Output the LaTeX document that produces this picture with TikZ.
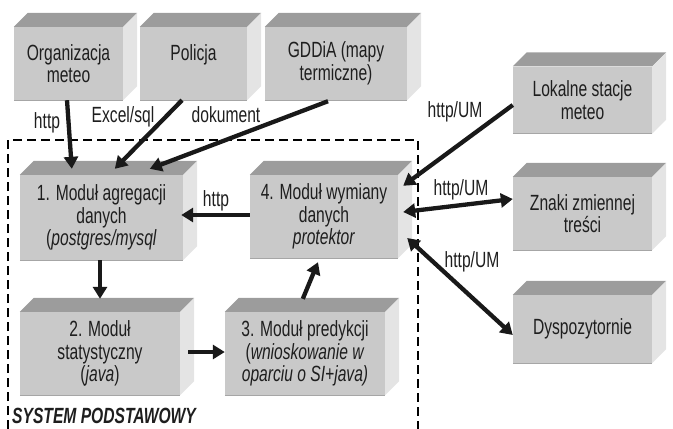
\documentclass[tikz,border=0pt]{standalone}
\usepackage{fontspec}
\setmainfont[FakeStretch=0.71]{Liberation Sans}
\usetikzlibrary{arrows.meta}

\definecolor{frontgray}{HTML}{C9C9C9}
\definecolor{topgray}{HTML}{9C9C9C}
\definecolor{sidegray}{HTML}{E4E4E4}
\definecolor{textgray}{HTML}{1E1E1E}

\begin{document}
\begin{tikzpicture}[
    x=1pt, y=-1pt,
% first : the style of the blocks
    block/.style={
        rectangle,
        fill=frontgray,
        align=center,
        inner sep=0pt,
        text=textgray,
        font=\fontsize{22}{22.5}\selectfont
    },
    linktext/.style={
        inner sep=0pt,
        text=textgray,
        font=\fontsize{22}{22.5}\selectfont
    },
    link/.style={line width=4.3pt, black!90},
    >={Triangle[length=12pt,width=14pt]}
]
\useasboundingbox (0,0) rectangle (673,429);

% the basic system frame
\draw[line width=2.8pt, dash pattern=on 9pt off 5pt] (8,429) -- (8,140) -- (418,140) -- (418,429);
\node[anchor=base west, inner sep=0pt, text=textgray,
    font=\fontsize{22}{22.5}\selectfont\bfseries\itshape] (system) at (12,423) {SYSTEM PODSTAWOWY};

% sources
\node[block, minimum width=109pt, minimum height=73pt] (org) at (68.5,63.5) {Organizacja\\meteo};
\node[block, minimum width=107pt, minimum height=73pt] (pol) at (193.5,63.5) {Policja\\~};
\node[block, minimum width=142pt, minimum height=73pt] (gddia) at (336,63.5) {GDDiA (mapy\\termiczne)};

% outside partners
\node[block, minimum width=139pt, minimum height=67pt] (lok) at (582.5,100) {Lokalne stacje\\meteo};
\node[block, minimum width=139pt, minimum height=73pt] (znaki) at (582.5,213.5) {Znaki zmiennej\\treści};
\node[block, minimum width=139pt, minimum height=68pt] (dispo) at (582.5,329) {Dyspozytornie};

% modules
\node[block, minimum width=163pt, minimum height=85pt] (mod1) at (101.5,217.5) {1. Moduł agregacji\\danych\\(\textit{postgres/mysql}};
\node[block, minimum width=148pt, minimum height=83pt] (mod4) at (324,216.5) {4. Moduł wymiany\\danych\\\textit{protektor}};
\node[block, minimum width=160pt, minimum height=83pt] (mod2) at (100,353.5) {2. Moduł\\statystyczny\\(\textit{java})};
\node[block, minimum width=160pt, minimum height=83pt] (mod3) at (305,353.5) {3. Moduł predykcji\\(\textit{wnioskowanie w}\\\textit{oparciu o SI+java)}};

% 3d faces
\foreach \n in {org,pol,gddia,lok,znaki,dispo,mod1,mod2,mod3,mod4} {
    \fill[topgray] (\n.north west) -- ([xshift=14pt,yshift=14pt]\n.north west)
        -- ([xshift=14pt,yshift=14pt]\n.north east) -- (\n.north east) -- cycle;
    \fill[sidegray] (\n.north east) -- ([xshift=14pt,yshift=14pt]\n.north east)
        -- ([xshift=14pt,yshift=14pt]\n.south east) -- (\n.south east) -- cycle;
    \draw[black!35, line width=1.2pt] (\n.south west) -- (\n.south east);
}

% links
\draw[link,->] ([xshift=-1.5pt]org.south) -- ([xshift=52pt,yshift=6pt]mod1.north west);
\draw[link,->] ([xshift=-11.5pt]pol.south) -- ([xshift=95pt,yshift=6pt]mod1.north west);
\draw[link,->] ([xshift=-8pt,yshift=-1pt]gddia.south) -- ([xshift=130pt,yshift=6pt]mod1.north west);
\draw[link,->] ([yshift=-5pt]lok.west) -- ([xshift=5pt,yshift=-11pt]mod4.north east);
\draw[link,<->] ([xshift=5pt,yshift=4.5pt]mod4.east) -- ([yshift=14.5pt]znaki.west);
\draw[link,<->] ([xshift=9pt,yshift=-21.5pt]mod4.east) -- ([yshift=-6pt]dispo.west);
\draw[link,->] ([yshift=1.5pt]mod4.west) -- ([xshift=-2pt,yshift=2.5pt]mod1.east);
\draw[link,->] ([xshift=-1.5pt]mod1.south) -- ([yshift=13pt]mod2.north);
\draw[link,->] ([xshift=8pt,yshift=1.5pt]mod2.east) -- ([yshift=1.5pt]mod3.west);
\draw[link,->] ([xshift=78pt,yshift=13pt]mod3.north west) -- ([xshift=-6pt,yshift=-4pt]mod4.south);

% link texts
\node[linktext] (t-org) at (47,123) {http};
\node[linktext] (t-pol) at (123,117) {Excel/sql};
\node[linktext] (t-gddia) at (226,115) {dokument};
\node[linktext] (t-lok) at (455,112) {http/UM};
\node[linktext] (t-znaki) at (461,190) {http/UM};
\node[linktext] (t-dispo) at (472,262) {http/UM};
\node[linktext] (t-mod) at (216,201) {http};

\end{tikzpicture}
\end{document}
